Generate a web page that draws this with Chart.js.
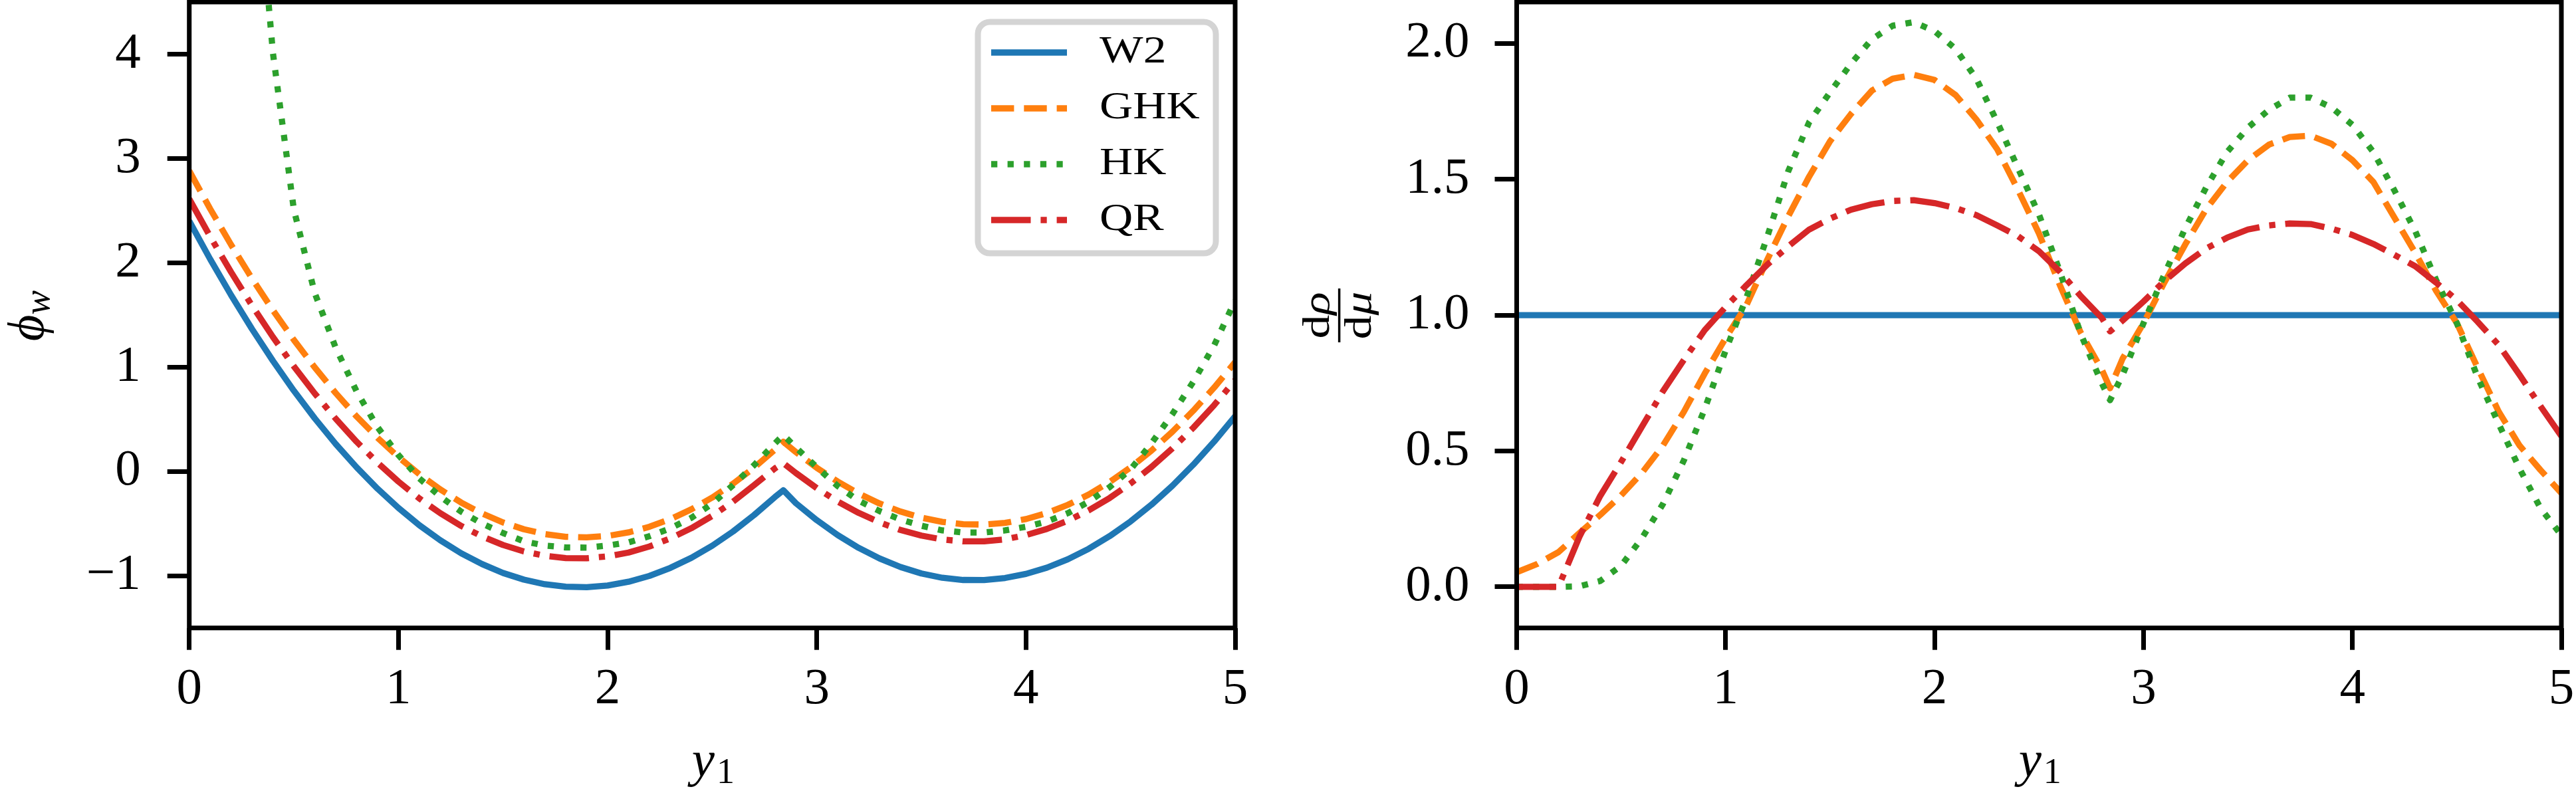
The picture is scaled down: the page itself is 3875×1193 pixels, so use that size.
<!DOCTYPE html>
<html>
<head>
<meta charset="utf-8">
<script src="https://cdn.jsdelivr.net/npm/chart.js@4.4.1/dist/chart.umd.min.js"></script>
<style>
  html, body { margin: 0; padding: 0; background: #fff; }
  body { width: 3875px; height: 1193px; position: relative; overflow: hidden; }
  .panel { position: absolute; top: 0; height: 1193px; }
  #panel-left { left: 0; width: 1898px; }
  #panel-right { left: 1898px; width: 1977px; }
  canvas { display: block; }
</style>
</head>
<body>
<div class="panel" id="panel-left"><canvas id="chartPhi" width="1898" height="1193" style="width:1898px;height:1193px"></canvas></div>
<div class="panel" id="panel-right"><canvas id="chartDensity" width="1977" height="1193" style="width:1977px;height:1193px"></canvas></div>
<script>
'use strict';

////////////////////////////
/// data
const xs = [
  0, 0.1, 0.2, 0.3, 0.4, 0.5, 0.6, 0.7, 0.8, 0.9,
  1.0, 1.1, 1.2, 1.3, 1.4, 1.5, 1.6, 1.7, 1.8, 1.9,
  2.0, 2.1, 2.2, 2.3, 2.4, 2.5, 2.6, 2.7, 2.8, 2.84,
  2.9, 3.0, 3.1, 3.2, 3.3, 3.4, 3.5, 3.6, 3.7, 3.8,
  3.9, 4.0, 4.1, 4.2, 4.3, 4.4, 4.5, 4.6, 4.7, 4.8,
  4.9, 5.0,
];

const seriesLabels = ['W2', 'GHK', 'HK', 'QR'];

/// left panel, phi_w
const phiW2 = [
  2.40, 2.035, 1.69, 1.365, 1.06, 0.774, 0.509, 0.264, 0.04, -0.165,
  -0.35, -0.515, -0.659, -0.784, -0.888, -0.973, -1.037, -1.081, -1.105, -1.109,
  -1.093, -1.057, -1.001, -0.924, -0.828, -0.712, -0.575, -0.418, -0.245, -0.18,
  -0.304, -0.467, -0.61, -0.732, -0.834, -0.916, -0.978, -1.019, -1.04, -1.041,
  -1.021, -0.982, -0.922, -0.842, -0.741, -0.62, -0.479, -0.318, -0.137, 0.065,
  0.287, 0.53,
];
const phiGHK = [
  2.881, 2.517, 2.173, 1.849, 1.545, 1.261, 0.997, 0.752, 0.527, 0.323,
  0.138, -0.027, -0.172, -0.298, -0.403, -0.489, -0.554, -0.6, -0.626, -0.632,
  -0.618, -0.584, -0.53, -0.457, -0.363, -0.25, -0.117, 0.036, 0.209, 0.284,
  0.186, 0.035, -0.097, -0.211, -0.307, -0.384, -0.443, -0.483, -0.505, -0.509,
  -0.493, -0.456, -0.398, -0.32, -0.221, -0.101, 0.039, 0.2, 0.381, 0.583,
  0.805, 1.048,
];
const phiHK = [
  14.0, 10.5, 8.0, 6.3, 4.01, 2.51, 1.71, 1.186, 0.768, 0.425,
  0.157, -0.067, -0.24, -0.385, -0.5, -0.59, -0.67, -0.71, -0.728, -0.73,
  -0.71, -0.68, -0.62, -0.545, -0.445, -0.31, -0.13, 0.06, 0.27, 0.35,
  0.23, 0.04, -0.14, -0.28, -0.38, -0.46, -0.52, -0.565, -0.585, -0.585,
  -0.565, -0.53, -0.48, -0.4, -0.29, -0.15, 0.02, 0.27, 0.55, 0.86,
  1.21, 1.64,
];
const phiQR = [
  2.612, 2.251, 1.911, 1.59, 1.289, 1.008, 0.747, 0.506, 0.285, 0.084,
  -0.097, -0.259, -0.4, -0.522, -0.623, -0.705, -0.767, -0.808, -0.83, -0.832,
  -0.814, -0.777, -0.719, -0.641, -0.544, -0.426, -0.289, -0.131, 0.03, 0.08,
  -0.015, -0.16, -0.288, -0.397, -0.488, -0.561, -0.615, -0.652, -0.67, -0.67,
  -0.65, -0.61, -0.551, -0.472, -0.373, -0.254, -0.115, 0.043, 0.221, 0.419,
  0.637, 0.875,
];

/// right panel, d rho / d mu
const densW2 = [
  1, 1, 1, 1, 1, 1, 1, 1, 1, 1,
  1, 1, 1, 1, 1, 1, 1, 1, 1, 1,
  1, 1, 1, 1, 1, 1, 1, 1, 1, 1,
  1, 1, 1, 1, 1, 1, 1, 1, 1, 1,
  1, 1, 1, 1, 1, 1, 1, 1, 1, 1,
  1, 1,
];
const densGHK = [
  0.054, 0.085, 0.128, 0.198, 0.265, 0.337, 0.42, 0.52, 0.644, 0.785,
  0.915, 1.037, 1.205, 1.364, 1.51, 1.64, 1.74, 1.826, 1.87, 1.884,
  1.865, 1.81, 1.72, 1.61, 1.46, 1.3, 1.11, 0.935, 0.8, 0.731,
  0.84, 0.97, 1.12, 1.26, 1.39, 1.49, 1.57, 1.627, 1.655, 1.66,
  1.63, 1.57, 1.49, 1.36, 1.23, 1.09, 0.97, 0.805, 0.645, 0.52,
  0.43, 0.345,
];
const densHK = [
  0, 0, 0, 0.002, 0.022, 0.078, 0.18, 0.305, 0.465, 0.655,
  0.87, 1.065, 1.29, 1.53, 1.71, 1.82, 1.925, 2.015, 2.065, 2.078,
  2.045, 1.98, 1.87, 1.71, 1.54, 1.37, 1.16, 0.93, 0.75, 0.687,
  0.78, 0.97, 1.15, 1.32, 1.47, 1.6, 1.69, 1.755, 1.8, 1.8,
  1.764, 1.7, 1.6, 1.46, 1.31, 1.13, 0.97, 0.77, 0.6, 0.435,
  0.29, 0.19,
];
const densQR = [
  0, 0, 0, 0.184, 0.335, 0.46, 0.59, 0.72, 0.835, 0.945,
  1.03, 1.11, 1.186, 1.253, 1.315, 1.355, 1.388, 1.408, 1.42, 1.423,
  1.412, 1.394, 1.368, 1.33, 1.29, 1.235, 1.16, 1.07, 0.99, 0.94,
  0.98, 1.05, 1.125, 1.19, 1.245, 1.285, 1.315, 1.33, 1.337, 1.335,
  1.318, 1.295, 1.262, 1.222, 1.18, 1.12, 1.055, 0.975, 0.89, 0.78,
  0.665, 0.555,
];

/// ticks
const xTicks = [0, 1, 2, 3, 4, 5];
const phiTicks = [-1, 0, 1, 2, 3, 4];
const densTicks = [0, 0.5, 1.0, 1.5, 2.0];

//////////////////////////////////////////////////////
/// styles
const serif = "'Liberation Serif', 'DejaVu Serif', serif";
const lineW = 9.3;
const plotTop = 3;
const plotBottom = 944.7;
const canvasH = 1193;
// small TeX sizes are wider than they are tall, so stretch those texts
const smallStretch = 1.22;

const lineStyles = [
  { color: '#1f77b4', dash: [], order: 4 },
  { color: '#ff7f0e', dash: [34.4, 14.9], order: 3 },
  { color: '#2ca02c', dash: [9.3, 15.3], order: 2 },
  { color: '#d62728', dash: [59.5, 14.9, 9.3, 14.9], order: 1 },
];

//////////////////////////////////////////////////////
/// functions
const makeDataset = function (label, values, style) {
  return {
    label,
    data: xs.map((x, i) => ({ x, y: values[i] })),
    borderColor: style.color,
    backgroundColor: style.color,
    borderWidth: lineW,
    borderDash: style.dash,
    borderCapStyle: 'butt',
    borderJoinStyle: 'round',
    pointRadius: 0,
    fill: false,
    tension: 0,
    order: style.order,
  };
};

const minusSign = (v) => (v < 0 ? '\u2212' + Math.abs(v) : String(v));

const makeScales = function (yMin, yMax, yTicks, yWidth, yPad, yFormat) {
  const tickFont = { family: serif, size: 77 };
  const grid = {
    drawOnChartArea: false,
    drawTicks: true,
    tickLength: 33,
    lineWidth: 7,
    color: '#000',
  };
  return {
    x: {
      type: 'linear',
      min: 0,
      max: 5,
      afterBuildTicks: (s) => {
        s.ticks = xTicks.map((v) => ({ value: v }));
      },
      afterFit: (s) => {
        s.height = canvasH - plotBottom;
        s.paddingLeft = 0;
        s.paddingRight = 0;
      },
      grid,
      border: { display: false },
      ticks: {
        padding: 14,
        color: '#000',
        font: tickFont,
        maxRotation: 0,
        autoSkip: false,
        callback: (v) => String(v),
      },
    },
    y: {
      type: 'linear',
      min: yMin,
      max: yMax,
      afterBuildTicks: (s) => {
        s.ticks = yTicks.map((v) => ({ value: v }));
      },
      afterFit: (s) => {
        s.width = yWidth;
        s.paddingTop = 0;
        s.paddingBottom = 0;
      },
      grid,
      border: { display: false },
      ticks: {
        padding: yPad,
        color: '#000',
        font: tickFont,
        autoSkip: false,
        callback: yFormat,
      },
    },
  };
};

/// frame round the plot area
const framePlugin = {
  id: 'frame',
  afterDraw(chart) {
    const { ctx, chartArea: a } = chart;
    ctx.save();
    ctx.strokeStyle = '#000';
    ctx.lineWidth = 7;
    ctx.strokeRect(a.left, a.top, a.right - a.left, a.bottom - a.top);
    ctx.restore();
  },
};

/// x title: y_1
const xTitlePlugin = {
  id: 'xTitle',
  afterDraw(chart) {
    const { ctx, chartArea: a } = chart;
    const cx = (a.left + a.right) / 2;
    ctx.save();
    ctx.fillStyle = '#000';
    ctx.textBaseline = 'alphabetic';
    ctx.textAlign = 'left';
    ctx.font = `italic 77px ${serif}`;
    const w1 = ctx.measureText('y').width;
    ctx.font = `54px ${serif}`;
    const w2 = ctx.measureText('1').width;
    const x0 = cx - (w1 + w2) / 2;
    ctx.font = `italic 77px ${serif}`;
    ctx.fillText('y', x0, 1168);
    ctx.font = `54px ${serif}`;
    ctx.fillText('1', x0 + w1 + 3, 1178);
    ctx.restore();
  },
};

/// y title left: phi_w
const phiTitlePlugin = {
  id: 'phiTitle',
  afterDraw(chart) {
    const { ctx } = chart;
    ctx.save();
    ctx.translate(65, 475);
    ctx.rotate(-Math.PI / 2);
    ctx.fillStyle = '#000';
    ctx.textBaseline = 'alphabetic';
    ctx.textAlign = 'left';
    ctx.font = `italic 77px ${serif}`;
    const w1 = ctx.measureText('\u03D5').width;
    ctx.font = `italic 55px ${serif}`;
    const w2 = ctx.measureText('w').width;
    const u0 = -(w1 + w2) / 2;
    ctx.font = `italic 77px ${serif}`;
    ctx.fillText('\u03D5', u0, 0);
    ctx.font = `italic 55px ${serif}`;
    ctx.fillText('w', u0 + w1, 9);
    ctx.restore();
  },
};

/// y title right: d rho / d mu
const drawDiff = function (ctx, greek, v) {
  ctx.font = `56px ${serif}`;
  const w1 = ctx.measureText('d').width;
  ctx.font = `italic 56px ${serif}`;
  const w2 = ctx.measureText(greek).width;
  ctx.save();
  ctx.scale(1.28, 1);
  const u0 = -(w1 + w2) / 2;
  ctx.font = `56px ${serif}`;
  ctx.fillText('d', u0, v);
  ctx.font = `italic 56px ${serif}`;
  ctx.fillText(greek, u0 + w1, v);
  ctx.restore();
};

const densTitlePlugin = {
  id: 'densTitle',
  afterDraw(chart) {
    const { ctx } = chart;
    ctx.save();
    ctx.translate(2014.6 - 1898, 474.5);
    ctx.rotate(-Math.PI / 2);
    ctx.fillStyle = '#000';
    ctx.strokeStyle = '#000';
    ctx.textBaseline = 'alphabetic';
    ctx.textAlign = 'left';
    drawDiff(ctx, '\u03C1', -16);
    drawDiff(ctx, '\u03BC', 47);
    ctx.lineWidth = 3.5;
    ctx.beginPath();
    ctx.moveTo(-40.5, 0);
    ctx.lineTo(40.5, 0);
    ctx.stroke();
    ctx.restore();
  },
};

/// legend inside left panel
const legendPlugin = {
  id: 'boxLegend',
  afterDraw(chart) {
    const { ctx } = chart;
    const rows = [79, 163, 247, 331];
    ctx.save();
    ctx.beginPath();
    ctx.roundRect(1471, 33, 358, 348, 18);
    ctx.fillStyle = 'rgba(255,255,255,0.8)';
    ctx.fill();
    ctx.lineWidth = 9;
    ctx.strokeStyle = '#d4d4d4';
    ctx.stroke();
    seriesLabels.forEach((label, i) => {
      const st = lineStyles[i];
      ctx.beginPath();
      ctx.setLineDash(st.dash);
      ctx.lineCap = 'butt';
      ctx.lineWidth = lineW;
      ctx.strokeStyle = st.color;
      ctx.moveTo(1491, rows[i]);
      ctx.lineTo(1605, rows[i]);
      ctx.stroke();
      ctx.setLineDash([]);
      ctx.save();
      ctx.translate(1654, rows[i]);
      ctx.scale(smallStretch, 1);
      ctx.fillStyle = '#000';
      ctx.font = `57px ${serif}`;
      ctx.textBaseline = 'middle';
      ctx.textAlign = 'left';
      ctx.fillText(label, 0, 0);
      ctx.restore();
    });
    ctx.restore();
  },
};

const baseOptions = function (scales, padRight) {
  return {
    responsive: false,
    animation: false,
    devicePixelRatio: 1,
    events: [],
    layout: { padding: { left: 0, right: padRight, top: plotTop, bottom: 0 } },
    plugins: { legend: { display: false }, tooltip: { enabled: false } },
    scales,
  };
};

//////////////////////////////////////////////////////
///CHARTS

/// chart left
const phiSeries = [phiW2, phiGHK, phiHK, phiQR];
const chartPhi = new Chart(document.getElementById('chartPhi'), {
  type: 'line',
  data: {
    datasets: phiSeries.map((s, i) =>
      makeDataset(seriesLabels[i], s, lineStyles[i])
    ),
  },
  options: baseOptions(
    makeScales(-1.5, 4.5, phiTicks, 284.7, 40, minusSign),
    40
  ),
  plugins: [framePlugin, xTitlePlugin, phiTitlePlugin, legendPlugin],
});

/// chart right
const densSeries = [densW2, densGHK, densHK, densQR];
const chartDensity = new Chart(document.getElementById('chartDensity'), {
  type: 'line',
  data: {
    datasets: densSeries.map((s, i) =>
      makeDataset(seriesLabels[i], s, lineStyles[i])
    ),
  },
  options: baseOptions(
    makeScales(-0.151, 2.152, densTicks, 2281.5 - 1898, 38, (v) => v.toFixed(1)),
    22
  ),
  plugins: [framePlugin, xTitlePlugin, densTitlePlugin],
});
</script>
</body>
</html>
